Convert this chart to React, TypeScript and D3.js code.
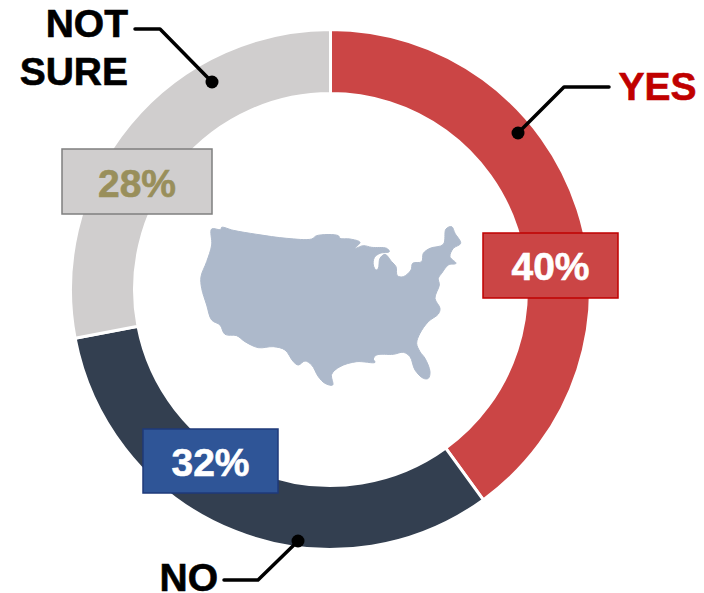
import React from 'react';
import * as d3 from 'd3';

const categories = ['YES', 'NO', 'NOT SURE'];
const shares = [40, 32, 28];
const sliceColors = ['#CB4545', '#333F50', '#D0CECE'];

const boxFills = ['#CB4545', '#2F5597', '#D0CECE'];
const boxStrokes = ['#C00000', '#1F3A7A', '#7F7F7F'];
const boxTextColors = ['#FFFFFF', '#FFFFFF', '#998F5B'];
const boxRects = [
  [483, 233, 135, 65],
  [143, 429, 135, 64],
  [62, 149, 150, 65],
];
const boxTextBase = [280, 476, 197];

// leader lines, label end -> elbow -> dot
const leaders: [number, number][][] = [
  [[609, 87], [564, 87], [518, 133]],
  [[224, 580], [258, 580], [298, 541]],
  [[135, 29], [160, 29], [212, 82]],
];

// outline of the map
const mapOutline: [number, number][] = [
  [65,42],[92,44],[95,37],[130,46],[200,58],[290,70],[365,72],[380,62],[445,62],[450,70],[480,72],[510,82],[495,100],
  [520,92],[545,97],[590,100],[598,110],[570,115],[553,128],[550,150],[558,165],[565,160],[570,130],[585,118],[605,140],
  [618,155],[622,182],[640,185],[663,165],[668,145],[695,140],[700,115],[720,100],[760,88],[768,42],[785,35],[795,55],
  [812,85],[790,100],[780,125],[798,145],[775,150],[755,175],[745,190],[748,210],[735,250],[750,280],[745,297],[715,320],
  [690,355],[680,385],[690,410],[705,430],[720,470],[715,490],[700,490],[675,465],[660,425],[640,412],[610,418],[560,420],
  [550,432],[555,442],[500,440],[450,455],[425,478],[428,510],[405,505],[385,485],[365,450],[345,438],[325,450],[310,440],
  [285,405],[250,395],[205,398],[165,380],[140,362],[105,358],[90,330],[65,315],[50,270],[35,220],[33,185],[50,140],[65,90],
];

const FONT = '"Liberation Sans", Arial, sans-serif';

export default function App() {
  const cx = 330.5;
  const cy = 289.5;
  const pie = d3.pie<number>().sort(null).value((d) => d);
  const arc = d3.arc<d3.PieArcDatum<number>>().innerRadius(196).outerRadius(260);
  const slices = pie(shares);
  const leaderLine = d3.line();
  const mapLine = d3
    .line()
    .x((d) => 190 + d[0] / 3)
    .y((d) => 215 + d[1] / 3)
    .curve(d3.curveCatmullRomClosed.alpha(0.5));

  return (
    <svg
      width={704}
      height={593}
      style={{ position: 'absolute', left: 0, top: 0, display: 'block', fontFamily: FONT, fontWeight: 700 }}
    >
      <rect width={704} height={593} fill="#fff" />
      <g transform={`translate(${cx},${cy})`}>
        {slices.map((s, i) => (
          <path key={categories[i]} d={arc(s) || ''} fill={sliceColors[i]} stroke="#fff" strokeWidth={3} />
        ))}
      </g>
      <path d={mapLine(mapOutline) || ''} fill="#ADB9CB" stroke="#ADB9CB" strokeWidth={1} strokeLinejoin="round" />

      {leaders.map((pts, i) => (
        <g key={i}>
          <path d={leaderLine(pts) || ''} fill="none" stroke="#000" strokeWidth={3.5} strokeLinecap="round" strokeLinejoin="round" />
          <circle cx={pts[2][0]} cy={pts[2][1]} r={6.5} fill="#000" />
        </g>
      ))}

      {boxRects.map((b, i) => (
        <g key={i}>
          <rect x={b[0]} y={b[1]} width={b[2]} height={b[3]} fill={boxFills[i]} stroke={boxStrokes[i]} strokeWidth={1.5} />
          <text x={b[0] + b[2] / 2} y={boxTextBase[i]} textAnchor="middle" fontSize={39} fill={boxTextColors[i]} stroke={boxTextColors[i]} strokeWidth={0.6}>
            {shares[i]}%
          </text>
        </g>
      ))}

      <g stroke="#000" strokeWidth={0.6} fontSize={39} fill="#000">
        <text x={618.5} y={100} fill="#C00000" stroke="#C00000">YES</text>
        <text x={218} y={591} textAnchor="end">NO</text>
        <text x={128} y={37} textAnchor="end">NOT</text>
        <text x={128} y={85} textAnchor="end">SURE</text>
      </g>
    </svg>
  );
}
